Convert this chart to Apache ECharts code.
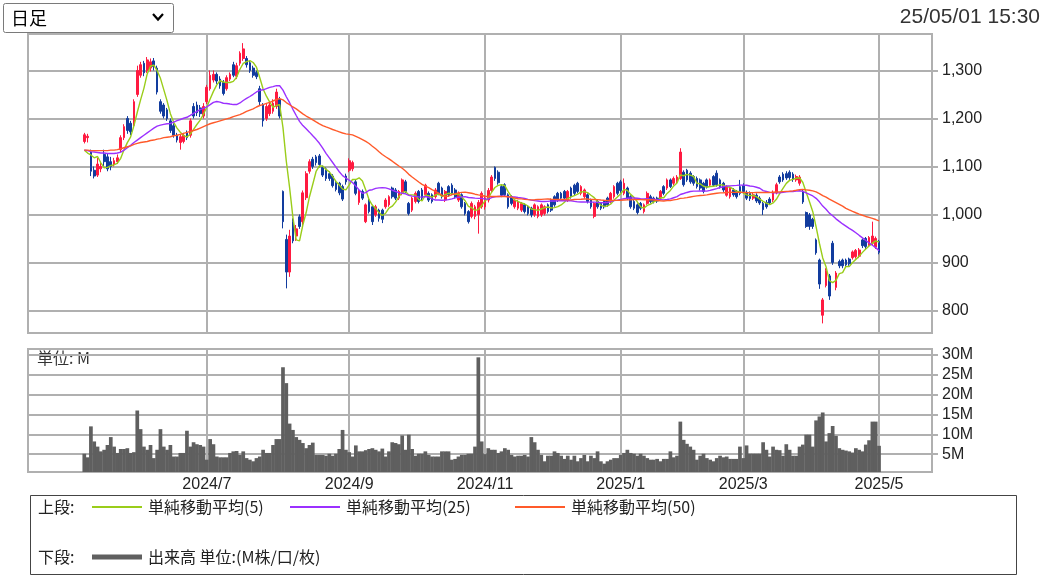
<!DOCTYPE html>
<html><head><meta charset="utf-8">
<script src="https://cdn.jsdelivr.net/npm/echarts@6/dist/echarts.min.js"></script>
<style>html,body{margin:0;padding:0;background:#fff}#c{width:1047px;height:578px}</style>
</head><body><div id="c"></div><script>
// ---- trading calendar (category labels) ----
const tradingDays = [
 ['2024/5',[9,10,13,14,15,16,17,20,21,22,23,24,27,28,29,30,31]],
 ['2024/6',[3,4,5,6,7,10,11,12,13,14,17,18,19,20,21,24,25,26,27,28]],
 ['2024/7',[1,2,3,4,5,8,9,10,11,12,16,17,18,19,22,23,24,25,26,29,30,31]],
 ['2024/8',[1,2,5,6,7,8,9,13,14,15,16,19,20,21,22,23,26,27,28,29,30]],
 ['2024/9',[2,3,4,5,6,9,10,11,12,13,17,18,19,20,24,25,26,27,30]],
 ['2024/10',[1,2,3,4,7,8,9,10,11,15,16,17,18,21,22,23,24,25,28,29,30,31]],
 ['2024/11',[1,5,6,7,8,11,12,13,14,15,18,19,20,21,22,25,26,27,28,29]],
 ['2024/12',[2,3,4,5,6,9,10,11,12,13,16,17,18,19,20,23,24,25,26,27,30]],
 ['2025/1',[6,7,8,9,10,14,15,16,17,20,21,22,23,24,27,28,29,30,31]],
 ['2025/2',[3,4,5,6,7,10,12,13,14,17,18,19,20,21,25,26,27,28]],
 ['2025/3',[3,4,5,6,7,10,11,12,13,14,17,18,19,21,24,25,26,27,28,31]],
 ['2025/4',[1,2,3,4,7,8,9,10,11,14,15,16,17,18,21,22,23,24,25,28,30]],
 ['2025/5',[1]]
];
const monthTicks = ['2024/7','2024/9','2024/11','2025/1','2025/3','2025/5'];
const priceTicks = [800,900,1000,1100,1200,1300];
const volumeTicks = [5,10,15,20,25,30];

// ---- daily prices (yen) ----
const opens = [
1152,1160,1130,1092,1082,1095,1125,1120,1110,1105,
1110,1135,1160,1200,1190,1186,1250,1290,1315,1300,
1305,1320,1305,1235,1228,1218,1195,1185,1165,1150,
1152,1170,1165,1225,1228,1222,1205,1235,1262,1280,
1292,1282,1275,1262,1282,1312,1288,1315,1325,1325,
1316,1305,1296,1262,1228,1200,1210,1215,1225,1240,
1048,948,880,985,955,995,985,1035,1090,1115,
1120,1122,1098,1095,1085,1080,1066,1065,1058,1080,
1092,1095,1068,1025,1048,985,1030,1016,999,1009,
1009,1016,1020,1055,1051,1034,1044,1068,1023,1009,
1027,1048,1051,1041,1044,1041,1037,1065,1055,1030,
1058,1061,1051,1030,1041,1023,1006,996,996,1000,
1016,1016,1030,1050,1098,1088,1058,1062,1041,1037,
1016,1013,1009,1020,1016,1013,999,996,999,1002,
1020,1030,1037,1044,1044,1048,1030,1055,1061,1065,
1044,1037,1041,1030,996,1027,1023,1027,1034,1027,
1037,1065,1068,1044,1055,1037,1027,1020,1023,1006,
1023,1037,1034,1034,1034,1058,1055,1072,1065,1068,
1075,1088,1092,1086,1079,1075,1072,1065,1072,1061,
1079,1086,1072,1065,1040,1037,1051,1048,1058,1060,
1046,1044,1034,1040,1034,1023,1025,1032,1030,1045,
1078,1084,1085,1088,1084,1072,1065,1048,1004,999,
990,947,905,790,852,872,940,848,902,905,
905,907,910,912,913,947,950,936,940,932,
944];
const closes = [
1166,1163,1090,1080,1105,1100,1110,1095,1100,1112,
1118,1160,1183,1175,1172,1235,1300,1312,1295,1322,
1318,1308,1255,1215,1205,1200,1175,1165,1155,1162,
1165,1160,1195,1205,1212,1210,1225,1265,1290,1292,
1278,1268,1252,1285,1292,1290,1310,1336,1345,1312,
1300,1290,1287,1235,1195,1225,1228,1232,1255,1205,
985,880,955,945,970,975,1045,1085,1110,1100,
1108,1104,1082,1075,1075,1060,1052,1045,1032,1068,
1112,1108,1044,1050,1034,1020,1006,985,1016,992,
990,1030,1037,1037,1034,1048,1072,1048,1002,1034,
1044,1027,1034,1061,1030,1027,1051,1044,1037,1048,
1041,1044,1037,1044,1016,1002,985,1023,1016,1025,
1044,1034,1050,1078,1075,1066,1040,1041,1016,1023,
1030,1027,1023,1006,1002,999,1020,1016,1020,1016,
1006,1009,1020,1030,1034,1034,1048,1037,1044,1048,
1058,1051,1027,1016,1023,1016,1013,1016,1020,1044,
1058,1044,1050,1065,1034,1016,1013,1004,1013,1020,
1044,1027,1027,1028,1048,1044,1072,1058,1075,1078,
1130,1062,1072,1068,1065,1058,1055,1048,1058,1072,
1061,1062,1058,1051,1058,1055,1041,1037,1044,1048,
1034,1033,1041,1028,1024,1010,1016,1024,1046,1062,
1068,1072,1076,1077,1073,1079,1078,1026,975,975,
975,920,855,822,883,830,900,878,893,893,
895,897,922,925,926,935,933,952,955,950,
921];
const lows = [
1148,1150,1080,1075,1078,1088,1100,1090,1092,1100,
1105,1130,1155,1168,1165,1180,1245,1285,1288,1295,
1298,1300,1250,1210,1200,1195,1170,1160,1150,1135,
1148,1155,1160,1200,1205,1203,1200,1230,1258,1275,
1272,1262,1248,1258,1278,1286,1282,1310,1320,1306,
1295,1285,1282,1228,1183,1195,1205,1210,1220,1200,
971,846,870,940,945,970,978,1030,1085,1095,
1102,1098,1078,1070,1070,1056,1048,1040,1028,1062,
1088,1090,1040,1020,1030,982,1002,978,995,985,
982,1012,1016,1033,1030,1030,1040,1044,998,1005,
1023,1023,1030,1037,1026,1023,1033,1040,1033,1026,
1037,1040,1033,1026,1012,998,981,992,990,960,
1012,1010,1025,1045,1070,1062,1036,1037,1012,1019,
1012,1009,1005,1002,998,994,995,992,995,998,
1002,1005,1016,1026,1030,1030,1026,1033,1040,1044,
1040,1033,1023,1012,992,1012,1009,1012,1016,1023,
1033,1040,1045,1040,1030,1012,1009,1000,1009,1002,
1020,1023,1023,1024,1030,1040,1051,1055,1061,1064,
1072,1058,1068,1064,1060,1054,1050,1044,1054,1058,
1058,1058,1054,1047,1037,1033,1037,1033,1040,1044,
1030,1028,1030,1024,1020,999,1012,1020,1026,1042,
1064,1068,1072,1072,1068,1068,1060,1022,972,968,
970,916,845,773,848,822,895,842,888,888,
890,893,906,908,909,930,928,932,936,928,
917];
const highs = [
1170,1168,1135,1100,1118,1108,1135,1128,1120,1118,
1125,1165,1188,1205,1195,1240,1310,1318,1320,1328,
1325,1326,1310,1240,1232,1222,1200,1190,1170,1166,
1170,1175,1200,1232,1235,1228,1232,1270,1300,1300,
1296,1288,1280,1290,1296,1318,1316,1340,1357,1330,
1320,1310,1300,1268,1232,1230,1235,1240,1262,1245,
1050,958,968,992,978,1000,1050,1090,1115,1120,
1124,1126,1102,1098,1090,1084,1070,1068,1062,1085,
1117,1112,1072,1053,1052,1023,1034,1020,1020,1012,
1012,1034,1040,1058,1055,1051,1075,1072,1026,1037,
1048,1051,1055,1064,1048,1044,1055,1068,1058,1051,
1061,1065,1055,1048,1044,1026,1009,1027,1020,1030,
1048,1040,1055,1082,1100,1092,1062,1065,1044,1040,
1033,1030,1026,1023,1019,1016,1023,1019,1023,1019,
1023,1033,1040,1047,1047,1051,1051,1058,1064,1068,
1061,1054,1044,1033,1026,1030,1026,1030,1037,1047,
1061,1068,1072,1075,1058,1040,1030,1023,1026,1023,
1048,1041,1037,1037,1051,1061,1075,1075,1079,1082,
1138,1092,1095,1090,1082,1079,1075,1068,1075,1075,
1082,1092,1075,1068,1061,1058,1055,1051,1072,1065,
1050,1048,1046,1044,1038,1026,1030,1036,1050,1066,
1082,1088,1090,1092,1088,1083,1082,1052,1006,1003,
993,950,908,826,888,876,945,882,906,908,
908,910,925,928,930,950,953,955,985,954,
947];
// ---- daily volume (million shares) ----
const volumes = [
5.1,4.2,12.0,8.2,6.9,5.7,6.1,7.3,9.3,6.9,
5.3,6.3,6.3,6.5,5.3,5.5,16.0,11.3,6.9,6.1,
7.3,4.0,6.1,11.3,6.9,6.1,7.3,4.4,4.4,5.3,
5.3,10.9,6.9,8.0,7.5,7.3,6.9,3.6,8.8,7.5,
4.4,4.2,4.2,4.2,5.3,5.7,5.8,4.8,5.7,4.0,
3.6,3.2,4.0,4.4,6.1,5.3,5.3,7.3,8.8,8.8,
26.9,22.9,12.7,11.1,9.3,8.6,7.8,6.5,7.3,7.9,
4.8,4.8,4.8,4.6,5.1,4.6,5.1,6.3,11.1,6.1,
5.5,4.4,7.2,5.7,5.7,6.0,6.3,6.5,6.1,5.7,
6.4,4.4,5.7,8.0,7.8,7.5,9.7,6.1,9.9,6.3,
4.6,5.1,5.1,5.7,4.8,4.4,4.4,4.4,5.7,5.7,
5.7,3.6,3.8,4.4,4.8,4.8,5.1,5.1,6.9,29.4,
8.2,5.0,6.5,6.1,6.1,5.3,5.7,6.5,6.1,4.8,
4.4,4.6,4.6,4.8,4.4,9.3,8.0,6.1,4.8,3.2,
4.6,4.6,5.7,5.3,4.6,3.8,4.6,3.6,4.6,3.2,
4.0,4.8,3.2,4.6,4.0,5.7,3.2,2.6,3.2,3.6,
4.0,4.0,4.8,5.3,6.1,5.3,5.1,4.6,5.1,4.6,
4.0,3.6,3.6,3.8,3.2,3.8,3.8,5.7,4.2,4.6,
13.2,8.6,7.6,6.9,6.1,3.6,4.6,5.1,4.0,3.6,
3.2,4.0,4.6,4.2,4.4,3.8,3.8,3.8,6.9,4.0,
7.2,5.1,5.1,5.1,5.1,8.0,6.1,4.4,6.9,6.1,
6.0,4.6,7.5,6.1,4.6,4.6,6.9,7.4,9.9,9.9,
6.9,13.5,14.5,15.5,8.2,10.3,12.1,9.6,6.5,6.1,
5.9,5.7,5.4,6.5,6.1,5.7,7.4,8.5,13.2,13.2,
7.1];
// moving-average values for days before a full window exists
const ma5Early = [1134,1128,1124,1118];
const ma25Early = [1134,1133,1131,1130,1129,1128,1128,1127,1127,1127,1128,1130,1134,1139,1144,1150,1155,1160,1165,1170,1175,1180,1184,1186];
const ma50Early = [1134,1134,1133,1133,1133,1133,1133,1133,1134,1134,1135,1137,1139,1141,1143,1146,1148,1150,1151,1152,1154,1155,1157,1158,1160,1161,1162,1164,1165,1167,1169,1171,1173,1175,1177,1180,1183,1186,1189,1191,1193,1195,1197,1199,1201,1204,1206,1208,1211];

// ---- build ----
const PAD_L = 17, PAD_R = 16;
const dates = [];
tradingDays.forEach(([m, ds]) => ds.forEach(d => dates.push(m + '/' + d)));
const cats = [];
for (let i = 0; i < PAD_L; i++) cats.push('L' + i);
dates.forEach(d => cats.push(d));
for (let i = 0; i < PAD_R; i++) cats.push('R' + i);
const tickIdx = new Set();
monthTicks.forEach(m => { const k = dates.findIndex(d => d.startsWith(m + '/')); if (k >= 0) tickIdx.add(k + PAD_L); });

function ma(n, early) {
  return closes.map((c, i) => {
    if (i < n - 1) return early[i];
    let s = 0; for (let k = i - n + 1; k <= i; k++) s += closes[k];
    return +(s / n).toFixed(2);
  });
}
const pad = arr => [...Array(PAD_L).fill('-'), ...arr, ...Array(PAD_R).fill('-')];
const candles = pad(dates.map((_, i) => [opens[i], closes[i], lows[i], highs[i]]));

const GRID_C = '#b0b0b0';
const UP = '#ff1a40', DOWN = '#123c9e';
const C5 = '#9acd1a', C25 = '#9b30ff', C50 = '#ff5a2a';
const LAT = '"Liberation Sans", Arial, sans-serif';
const JP = '"Noto Sans CJK JP", sans-serif';

const splitX = { show: true, interval: (i) => tickIdx.has(i), lineStyle: { color: GRID_C, width: 2 } };

const chart = echarts.init(document.getElementById('c'), null, { renderer: 'canvas', width: 1047, height: 578 });
chart.setOption({
  animation: false,
  backgroundColor: '#fff',
  grid: [
    { left: 28, top: 34, width: 904, height: 299, show: true, borderColor: GRID_C, borderWidth: 2, containLabel: false, outerBoundsMode: 'none' },
    { left: 28, top: 349, width: 904, height: 123, show: true, borderColor: GRID_C, borderWidth: 2, containLabel: false, outerBoundsMode: 'none' }
  ],
  xAxis: [
    { type: 'category', gridIndex: 0, data: cats, boundaryGap: false,
      axisLine: { show: false }, axisTick: { show: false }, axisLabel: { show: false }, splitLine: splitX },
    { type: 'category', gridIndex: 1, data: cats, boundaryGap: false,
      axisLine: { show: false }, axisTick: { show: false },
      axisLabel: { show: true, interval: (i) => tickIdx.has(i), formatter: v => v.split('/').slice(0, 2).join('/'),
        color: '#222', fontSize: 16, fontFamily: LAT, margin: 5 },
      splitLine: splitX }
  ],
  yAxis: [
    { type: 'value', gridIndex: 0, position: 'right', min: 753, max: 1376,
      axisLine: { show: false },
      axisTick: { show: true, length: 6, customValues: priceTicks, lineStyle: { color: GRID_C, width: 2 } },
      axisLabel: { customValues: priceTicks, formatter: v => v.toLocaleString('en-US'), color: '#222', fontSize: 16, fontFamily: LAT, margin: 10 },
      splitLine: { show: true, lineStyle: { color: GRID_C, width: 2 } } },
    { type: 'value', gridIndex: 1, position: 'right', min: 0.5, max: 31.5,
      axisLine: { show: false },
      axisTick: { show: true, length: 6, customValues: volumeTicks, lineStyle: { color: GRID_C, width: 2 } },
      axisLabel: { customValues: volumeTicks, formatter: v => v + 'M', color: '#222', fontSize: 16, fontFamily: LAT, margin: 10 },
      splitLine: { show: true, lineStyle: { color: GRID_C, width: 2 } } }
  ],
  series: [
    { type: 'candlestick', xAxisIndex: 0, yAxisIndex: 0, data: candles, barWidth: 2.2,
      itemStyle: { color: UP, color0: DOWN, borderColor: UP, borderColor0: DOWN, borderWidth: 1 }, z: 2 },
    { type: 'line', xAxisIndex: 0, yAxisIndex: 0, data: pad(ma(5, ma5Early)), symbol: 'none', showSymbol: false, lineStyle: { color: C5, width: 1.4 }, z: 4 },
    { type: 'line', xAxisIndex: 0, yAxisIndex: 0, data: pad(ma(25, ma25Early)), symbol: 'none', showSymbol: false, lineStyle: { color: C25, width: 1.4 }, z: 4 },
    { type: 'line', xAxisIndex: 0, yAxisIndex: 0, data: pad(ma(50, ma50Early)), symbol: 'none', showSymbol: false, lineStyle: { color: C50, width: 1.4 }, z: 4 },
    { type: 'bar', xAxisIndex: 1, yAxisIndex: 1, data: pad(volumes), barWidth: 3.7, itemStyle: { color: '#5f5f5f' } }
  ],
  graphic: [
    { type: 'rect', shape: { x: 3.5, y: 3.5, width: 170, height: 29, r: 2 }, style: { fill: '#fff', stroke: '#7a7a7a', lineWidth: 1 } },
    { type: 'text', x: 11, y: 18, style: { text: '日足', font: '18px ' + JP, fill: '#000', verticalAlign: 'middle' } },
    { type: 'polyline', shape: { points: [[153, 14], [158, 19.5], [163, 14]] }, style: { stroke: '#000', lineWidth: 2.2, fill: null } },
    { type: 'text', x: 1040, y: 17, style: { text: '25/05/01 15:30', font: '21px ' + LAT, fill: '#333', align: 'right', verticalAlign: 'middle' } },
    { type: 'text', x: 37, y: 358, style: { text: '単位: M', font: '16px ' + JP, fill: '#333', verticalAlign: 'middle' } },
    { type: 'rect', shape: { x: 30.5, y: 495.5, width: 986, height: 79 }, style: { fill: 'none', stroke: '#444', lineWidth: 1 } },
    { type: 'text', x: 38, y: 507, style: { text: '上段:', font: '16px ' + JP, fill: '#222', verticalAlign: 'middle' } },
    { type: 'line', shape: { x1: 92, y1: 507, x2: 142, y2: 507 }, style: { stroke: C5, lineWidth: 2 } },
    { type: 'text', x: 148, y: 507, style: { text: '単純移動平均(5)', font: '16px ' + JP, fill: '#222', verticalAlign: 'middle' } },
    { type: 'line', shape: { x1: 290, y1: 507, x2: 340, y2: 507 }, style: { stroke: C25, lineWidth: 2 } },
    { type: 'text', x: 346, y: 507, style: { text: '単純移動平均(25)', font: '16px ' + JP, fill: '#222', verticalAlign: 'middle' } },
    { type: 'line', shape: { x1: 515, y1: 507, x2: 565, y2: 507 }, style: { stroke: C50, lineWidth: 2 } },
    { type: 'text', x: 571, y: 507, style: { text: '単純移動平均(50)', font: '16px ' + JP, fill: '#222', verticalAlign: 'middle' } },
    { type: 'text', x: 38, y: 557, style: { text: '下段:', font: '16px ' + JP, fill: '#222', verticalAlign: 'middle' } },
    { type: 'line', shape: { x1: 92, y1: 557, x2: 142, y2: 557 }, style: { stroke: '#606060', lineWidth: 5 } },
    { type: 'text', x: 148, y: 557, style: { text: '出来高 単位:(M株/口/枚)', font: '16px ' + JP, fill: '#222', verticalAlign: 'middle' } }
  ]
});
</script></body></html>
